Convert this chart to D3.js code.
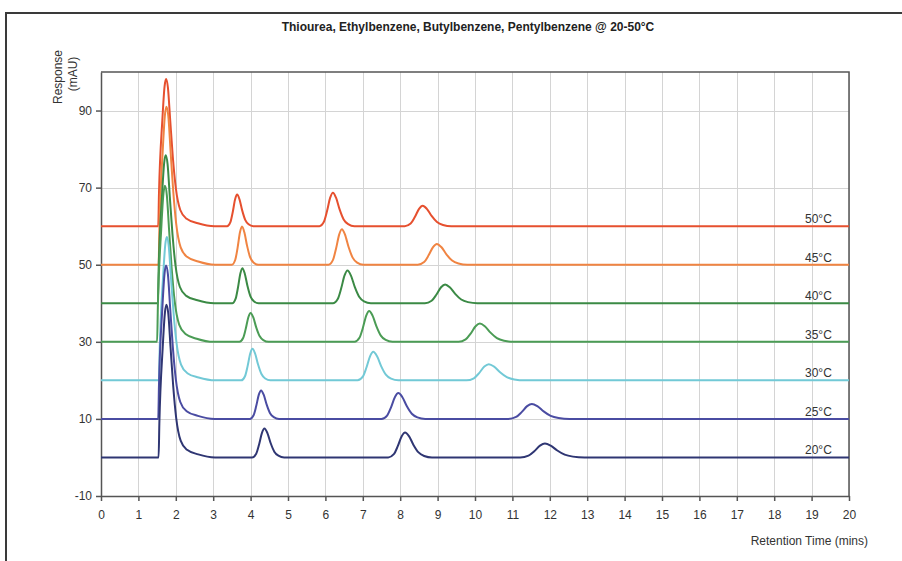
<!DOCTYPE html>
<html lang="en">

<head>
    <meta charset="utf-8">
    <title>chromatogram</title>
</head>
<style>
    body {
        margin: 0;
        background: #fff;
    }

    text {
        font-family: "Liberation Sans", Arial, sans-serif;
        fill: #333;
    }

    .grid line {
        stroke: #d4d4d4;
        stroke-width: 1;
        shape-rendering: crispEdges;
    }

    .axis path,
    .axis line {
        fill: none;
        stroke: #555;
        stroke-width: 1.5;
    }

    .axis text {
        font-size: 12px;
        fill: #333;
    }
</style>

<body>
    <script src="https://cdn.jsdelivr.net/npm/d3@7"></script>
    <script>
        // series, drawn back to front
        var labels = ['50\u00B0C', '45\u00B0C', '40\u00B0C', '35\u00B0C', '30\u00B0C', '25\u00B0C', '20\u00B0C'];
        var colors = ['#e6502f', '#f08442', '#3b8a45', '#4b9c55', '#72c9d6', '#4a4ca2', '#2f3673'];
        var baselines = [60, 50, 40, 30, 20, 10, 0];

        // thiourea peak (time, height above baseline)
        var thioTime = [1.74, 1.75, 1.73, 1.71, 1.76, 1.74, 1.75];
        var thioHeight = [38.2, 41, 38.4, 40.5, 37.2, 39.8, 39.6];

        // ethyl-, butyl-, pentylbenzene peaks: [time, height, width]
        var peaks = [
            [[3.64, 8.2, 0.09], [6.2, 8.7, 0.12], [8.6, 5.3, 0.16]],
            [[3.77, 9.9, 0.09], [6.44, 9.2, 0.12], [8.98, 5.4, 0.17]],
            [[3.78, 9.1, 0.09], [6.59, 8.5, 0.13], [9.2, 4.9, 0.18]],
            [[4.0, 7.5, 0.1], [7.17, 8.0, 0.13], [10.13, 4.75, 0.19]],
            [[4.05, 8.2, 0.1], [7.28, 7.4, 0.14], [10.37, 4.2, 0.2]],
            [[4.28, 7.4, 0.1], [7.95, 6.7, 0.15], [11.52, 3.9, 0.21]],
            [[4.37, 7.5, 0.11], [8.13, 6.5, 0.15], [11.87, 3.6, 0.22]]
        ];

        // peak outlines: [offset, fraction of height]
        var thioShape = [[-0.21, 0], [-0.19, 0.22], [-0.1, 0.72], [-0.04, 0.95], [0, 1], [0.05, 0.94],
            [0.11, 0.72], [0.18, 0.47], [0.26, 0.26], [0.38, 0.11], [0.55, 0.05], [0.85, 0.02], [1.3, 0]];
        var peakShape = [[-3, 0], [-2, 0.13], [-1.3, 0.45], [-0.6, 0.85], [0, 1], [0.7, 0.85],
            [1.5, 0.5], [2.4, 0.2], [3.4, 0.06], [4.8, 0]];

        var xTicks = d3.range(0, 21);
        var yTicks = [-10, 10, 30, 50, 70, 90];

        var width = 902, height = 561;
        var mLeft = 101, mRight = 849, mTop = 72, mBottom = 496;

        var svg = d3.select("body")
            .append("svg")
            .attr("width", width)
            .attr("height", height);

        var x = d3.scaleLinear().domain([0, 20]).range([mLeft, mRight]);
        var y = d3.scaleLinear().domain([-10, 100]).range([mBottom, mTop]);

        // outer frame
        svg.append("path")
            .attr("d", `M6,${height}V13H${width}`)
            .attr("fill", "none")
            .attr("stroke", "#3a3a3a")
            .attr("stroke-width", 2);

        // grid
        svg.append("g")
            .attr("class", "grid")
            .selectAll("line")
            .data(xTicks.slice(1))
            .join("line")
            .attr("x1", d => Math.round(x(d)) + 0.5)
            .attr("x2", d => Math.round(x(d)) + 0.5)
            .attr("y1", mTop)
            .attr("y2", mBottom);

        svg.append("g")
            .attr("class", "grid")
            .selectAll("line")
            .data(yTicks.slice(1))
            .join("line")
            .attr("x1", mLeft)
            .attr("x2", mRight)
            .attr("y1", d => Math.round(y(d)) + 0.5)
            .attr("y2", d => Math.round(y(d)) + 0.5);

        // top / right border
        svg.append("path")
            .attr("d", `M${mLeft},${mTop}H${mRight}V${mBottom}`)
            .attr("fill", "none")
            .attr("stroke", "#555")
            .attr("stroke-width", 1.5);

        svg.append("g")
            .attr("class", "axis")
            .attr("transform", `translate(0,${mBottom})`)
            .call(d3.axisBottom(x).tickValues(xTicks).tickSize(5).tickPadding(9).tickSizeOuter(0));

        // plain hyphen for negatives, like the original
        svg.append("g")
            .attr("class", "axis")
            .attr("transform", `translate(${mLeft},0)`)
            .call(d3.axisLeft(y).tickValues(yTicks).tickFormat(d => String(d))
                .tickSize(5).tickPadding(4).tickSizeOuter(0));

        // build each trace from baseline + peaks
        function trace(i) {
            var b = baselines[i];
            var pts = [[0, b]];
            thioShape.forEach(p => pts.push([thioTime[i] + p[0], b + thioHeight[i] * p[1]]));
            peaks[i].forEach(pk => {
                peakShape.forEach(p => pts.push([pk[0] + p[0] * pk[2], b + pk[1] * p[1]]));
            });
            pts.push([20, b]);
            return pts;
        }

        var line = d3.line()
            .x(d => x(d[0]))
            .y(d => y(d[1]))
            .curve(d3.curveMonotoneX);

        svg.append("g")
            .attr("fill", "none")
            .attr("stroke-width", 2)
            .attr("stroke-linejoin", "round")
            .selectAll("path")
            .data(labels.map((l, i) => i))
            .join("path")
            .attr("stroke", i => colors[i])
            .attr("d", i => line(trace(i)));

        // series labels
        svg.append("g")
            .selectAll("text")
            .data(labels)
            .join("text")
            .attr("x", 805)
            .attr("y", (d, i) => y(baselines[i]) - 3)
            .attr("font-size", 12)
            .text(d => d);

        // titles
        svg.append("text")
            .attr("x", 468)
            .attr("y", 31)
            .attr("text-anchor", "middle")
            .attr("font-size", 12)
            .attr("font-weight", "bold")
            .style("fill", "#222")
            .text("Thiourea, Ethylbenzene, Butylbenzene, Pentylbenzene @ 20-50\u00B0C");

        svg.append("text")
            .attr("x", 868)
            .attr("y", 545)
            .attr("text-anchor", "end")
            .attr("font-size", 12)
            .text("Retention Time (mins)");

        svg.append("text")
            .attr("transform", "translate(62,77) rotate(-90)")
            .attr("text-anchor", "middle")
            .attr("font-size", 12)
            .text("Response");

        svg.append("text")
            .attr("transform", "translate(77,74) rotate(-90)")
            .attr("text-anchor", "middle")
            .attr("font-size", 12)
            .text("(mAU)");
    </script>
</body>

</html>
